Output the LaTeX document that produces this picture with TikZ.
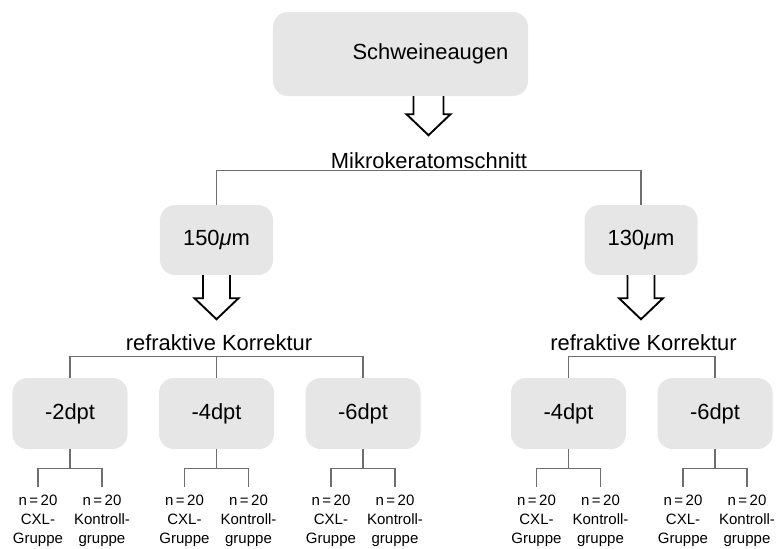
\documentclass[tikz,border=0pt]{standalone}
\usepackage{fontspec}
\setmainfont{Liberation Sans}
\usetikzlibrary{positioning,calc}
\definecolor{boxgray}{HTML}{E6E6E6}
\definecolor{linegray}{HTML}{6E6E6E}

% open block arrow pointing down: start, shaft half width, shaft length
\newcommand{\hollowdown}[3]{%
  \draw[hollow] (#1) ++(-#2,0) -- ++(0,#3) -- ++(#2-22,0) -- ++(22,21)
    -- ++(22,-21) -- ++(#2-22,0) -- ++(0,-#3);}

\begin{document}
\begin{tikzpicture}[x=0.03cm,y=-0.03cm,
    font=\fontsize{18.7}{22}\selectfont,
    stage/.style={fill=boxgray,rounded corners=0.45cm,align=center,inner sep=0pt},
    heading/.style={inner sep=2pt,anchor=base},
    tag/.style={font=\fontsize{12.8}{16}\selectfont,align=center,inner sep=1pt},
    tree/.style={draw=linegray,line width=1pt},
    hollow/.style={draw=black,fill=white,line width=1.6pt,line join=miter}]
  \useasboundingbox (0,0) rectangle (779,548);

  \node[stage,minimum width=7.65cm,minimum height=2.52cm] (eyes) at (400.5,54)
       {\hspace*{1.8cm}Schweineaugen};
  \node[heading] (cut) at (429,168) {Mikrokeratomschnitt};
  \node[stage,minimum width=3.39cm,minimum height=2.1cm] (p150) at (216.5,240) {150{\itshape μ}m};
  \node[stage,minimum width=3.39cm,minimum height=2.1cm] (p130) at (641,240) {130{\itshape μ}m};

  \hollowdown{$(eyes.south)+(28,0)$}{15}{18}
  \hollowdown{p150.south}{13.5}{23}
  \hollowdown{p130.south}{13.5}{23}

  \draw[tree] (p150.north) -- ++(0,-34) -| (p130.north);

  \node[heading] (corrL) at (219,350) {refraktive Korrektur};
  \node[heading] (corrR) at (643.5,350) {refraktive Korrektur};

  \foreach \n/\x/\t in {L2/70/-2dpt,L4/216.5/-4dpt,L6/363/-6dpt,R4/568.5/-4dpt,R6/715/-6dpt}{
    \node[stage,minimum width=3.45cm,minimum height=2.13cm] (\n) at (\x,413.5) {\t};
    \node[tag] (\n c) at (\x-32,521) {n\,=\,20\\CXL-\\Gruppe};
    \node[tag] (\n k) at (\x+32,521) {n\,=\,20\\Kontroll-\\gruppe};
    \draw[tree,shorten >=6pt] (\n.south) -- ++(0,19) -| (\n c.north);
    \draw[tree,shorten >=6pt] (\n.south) ++(0,19) -| (\n k.north);
  }

  \draw[tree] (L2.north) -- ++(0,-21) -| (L6.north);
  \draw[tree] (L4.north) -- ++(0,-21);
  \draw[tree] (R4.north) -- ++(0,-21) -| (R6.north);
\end{tikzpicture}
\end{document}
